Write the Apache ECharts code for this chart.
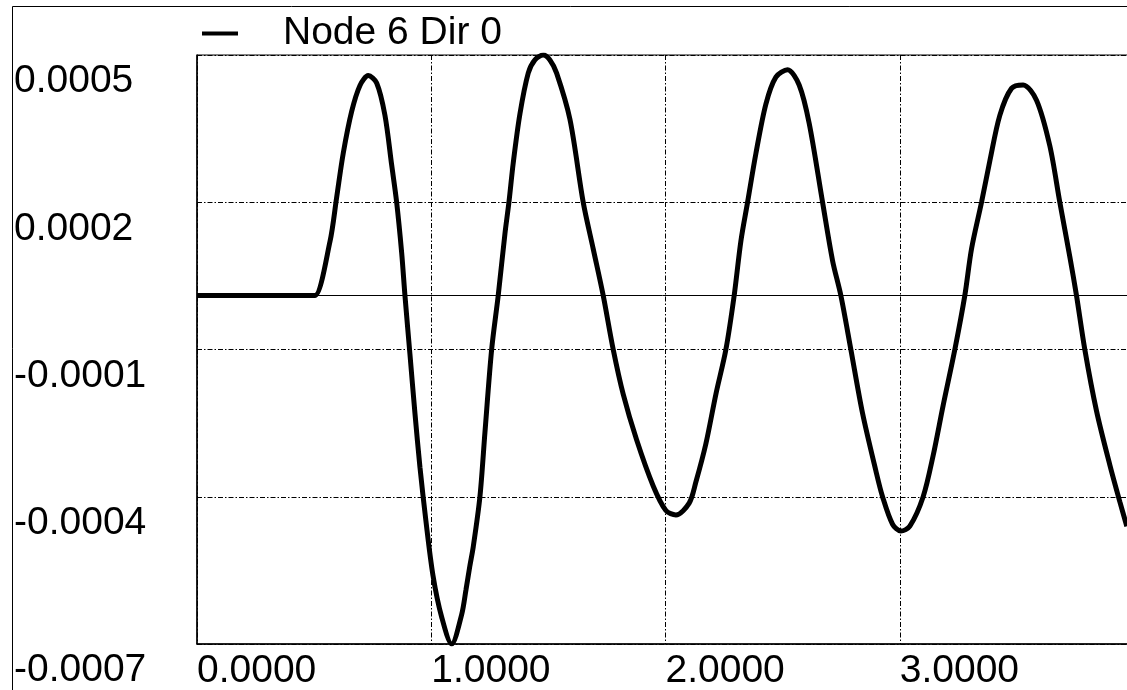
<!DOCTYPE html>
<html>
<head>
<meta charset="utf-8">
<script src="https://cdn.jsdelivr.net/npm/echarts@6/dist/echarts.min.js"></script>
<style>
html,body{margin:0;padding:0;background:#fff;}
#chart{width:1127px;height:690px;}
</style>
</head>
<body>
<div id="chart"></div>
<script>
// ---- data ----
const seriesName = 'Node 6 Dir 0';
const timeVals = [0, 0.48, 0.5036, 0.5677, 0.5962, 0.6244, 0.6603, 0.6957, 0.7311, 0.767, 0.8024, 0.831, 0.8523, 0.8737, 0.8877, 0.9091, 0.9304, 0.9518, 0.9774, 1.0073, 1.0444, 1.0871, 1.1298, 1.1481, 1.1652, 1.1793, 1.2078, 1.2292, 1.2578, 1.2859, 1.3146, 1.3316, 1.35, 1.3786, 1.414, 1.4426, 1.478, 1.5066, 1.5352, 1.592, 1.6487, 1.6914, 1.7341, 1.7768, 1.8194, 1.8766, 1.9475, 2.0017, 2.0444, 2.1011, 2.1297, 2.1724, 2.2151, 2.2578, 2.2932, 2.3218, 2.3504, 2.3858, 2.4285, 2.4712, 2.5211, 2.5706, 2.6133, 2.6705, 2.7132, 2.7486, 2.7913, 2.8412, 2.898, 2.9266, 2.9693, 3.0047, 3.0431, 3.0999, 3.1426, 3.1852, 3.2352, 3.2778, 3.3064, 3.3491, 3.3845, 3.4272, 3.4772, 3.5267, 3.5838, 3.6406, 3.6833, 3.726, 3.7545, 3.79, 3.8399, 3.8967, 3.9394, 3.9693];
const dispVals = [0, 0, 0, 0.00011, 0.0002, 0.00029, 0.000375, 0.000428, 0.000448, 0.000433, 0.000367, 0.000266, 0.00019, 0.000087, 0, -0.00012, -0.00024, -0.00035, -0.00046, -0.00057, -0.000655, -0.00071, -0.00065, -0.0006, -0.00055, -0.000512, -0.00041, -0.000279, -0.00011, 0, 0.000126, 0.00019, 0.00027, 0.00037, 0.000453, 0.00048, 0.00049, 0.00048, 0.000453, 0.000359, 0.00019, 0.000095, 0, -0.00011, -0.000201, -0.000294, -0.000388, -0.000438, -0.000447, -0.000423, -0.00038, -0.000302, -0.000201, -0.00011, 0, 0.000111, 0.00019, 0.000289, 0.00039, 0.000445, 0.00046, 0.000429, 0.000351, 0.00019, 0.000071, 0, -0.00011, -0.00024, -0.000357, -0.00041, -0.000466, -0.00048, -0.00047, -0.00041, -0.000326, -0.000224, -0.00011, 0, 0.000095, 0.00019, 0.000274, 0.000367, 0.000422, 0.000429, 0.000398, 0.000305, 0.00019, 0.000079, 0, -0.00011, -0.000235, -0.000345, -0.00042, -0.00047];
const xTickLabels = ['0.0000', '1.0000', '2.0000', '3.0000'];
const yTickLabels = ['-0.0007', '-0.0004', '-0.0001', '0.0002', '0.0005'];

const chart = echarts.init(document.getElementById('chart'), null, {renderer: 'canvas'});
const FONT = 'Liberation Sans, Arial, sans-serif';
const gridDash = [5, 2, 1.5, 2];

const option = {
  animation: false,
  backgroundColor: '#fff',
  textStyle: {fontFamily: FONT},
  graphic: [{
    type: 'rect', silent: true, z: -1,
    shape: {x: 12.5, y: 6.5, width: 2000, height: 2000},
    style: {fill: 'none', stroke: '#000', lineWidth: 1}
  }],
  legend: {
    left: 197, top: 9,
    itemWidth: 36, itemHeight: 4,
    icon: 'rect',
    itemStyle: {color: '#000'},
    textStyle: {fontFamily: FONT, fontSize: 39, color: '#000', padding: [0, 0, 0, 40]},
    data: [seriesName]
  },
  grid: {
    left: 197, top: 55, right: -7, bottom: 46,
    containLabel: false, outerBoundsMode: 'none',
    show: true, borderColor: '#000', borderWidth: 1, backgroundColor: 'transparent'
  },
  xAxis: {
    type: 'value', min: 0, max: 4, interval: 1,
    axisLine: {show: true, onZero: false, lineStyle: {color: '#000', width: 1.5}},
    axisTick: {show: false},
    axisLabel: {
      show: true, showMaxLabel: false, align: 'left', verticalAlign: 'top', margin: 8,
      fontFamily: FONT, fontSize: 39, color: '#000',
      formatter: (v, i) => xTickLabels[i] !== undefined ? xTickLabels[i] : ''
    },
    splitLine: {show: true, lineStyle: {color: '#000', width: 1, type: gridDash}}
  },
  yAxis: {
    type: 'value', min: -0.00071, max: 0.00049, interval: 0.0003,
    axisLine: {show: true, onZero: false, lineStyle: {color: '#000', width: 1.5}},
    axisTick: {show: false},
    axisLabel: {
      show: true, align: 'left', verticalAlign: 'top', margin: 183, padding: [7, 0, 0, 0],
      fontFamily: FONT, fontSize: 39, color: '#000',
      formatter: (v, i) => yTickLabels[i] !== undefined ? yTickLabels[i] : ''
    },
    splitLine: {show: true, lineStyle: {color: '#000', width: 1, type: gridDash}}
  },
  series: [{
    name: seriesName,
    type: 'line',
    data: timeVals.map((t, i) => [t, dispVals[i]]),
    showSymbol: false,
    smooth: 0.3,
    lineStyle: {color: '#000', width: 5},
    itemStyle: {color: '#000'},
    markLine: {
      silent: true, symbol: 'none', label: {show: false},
      lineStyle: {color: '#000', width: 1, type: 'solid'},
      data: [{yAxis: 0}]
    }
  }]
};
chart.setOption(option);
</script>
</body>
</html>
